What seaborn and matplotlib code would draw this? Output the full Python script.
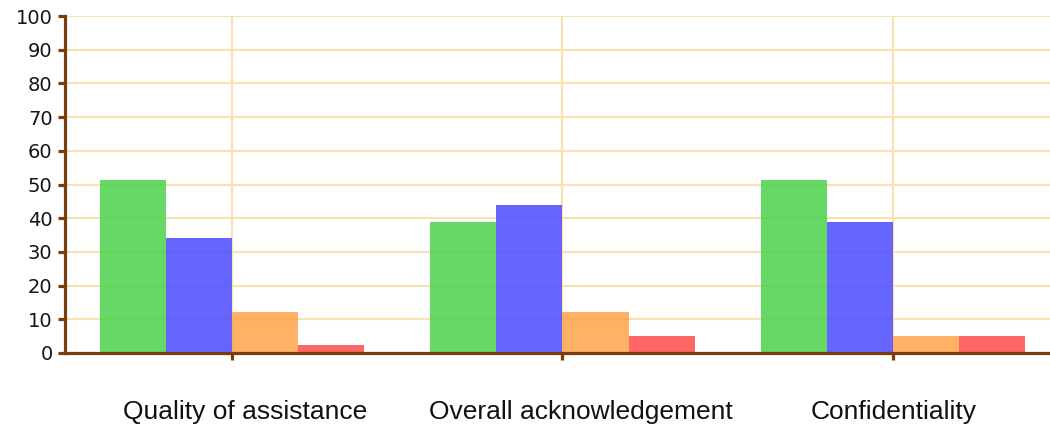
import matplotlib
matplotlib.use("Agg")
import matplotlib.pyplot as plt
import matplotlib.transforms as mtransforms
import numpy as np
import pandas as pd
import seaborn as sns

# Survey results (% of respondents) per aspect and rating level
aspects = ["Quality of assistance", "Overall acknowledgement", "Confidentiality"]
ratings = ["Very good", "Good", "Fair", "Poor"]
very_good = [51.2, 39.0, 51.2]
good = [34.1, 43.9, 39.0]
fair = [12.2, 12.2, 4.9]
poor = [2.4, 4.9, 4.9]
y_ticks = list(range(0, 101, 10))

df = pd.DataFrame({
    "aspect": np.repeat(aspects, len(ratings)),
    "rating": ratings * len(aspects),
    "pct": [v for grp in zip(very_good, good, fair, poor) for v in grp],
})

palette = {
    "Very good": (75 / 255, 210 / 255, 75 / 255),
    "Good": (75 / 255, 75 / 255, 1.0),
    "Fair": (1.0, 164 / 255, 75 / 255),
    "Poor": (1.0, 75 / 255, 75 / 255),
}

sns.set_style("white")
plt.rcParams["font.family"] = ["DejaVu Sans"]

axis_color = "#7a3d12"
grid_color = "#f7e2b0"

fig = plt.figure(figsize=(10.5, 4.26), dpi=100)
ax = fig.add_axes([65 / 1050, 73 / 426, 1 - 65 / 1050, (353 - 16) / 426])

sns.barplot(
    data=df, x="aspect", y="pct", hue="rating", order=aspects,
    hue_order=ratings, palette=palette, saturation=1, width=0.8,
    linewidth=0, alpha=0.85, legend=False, ax=ax, zorder=3,
)

ax.set_ylim(0, 100)
ax.set_xlim(-0.505, 2.475)
ax.set_yticks(y_ticks)
ax.set_xlabel("")
ax.set_ylabel("")

ax.set_axisbelow(True)
ax.grid(True, color=grid_color, linewidth=1.5, zorder=0)

for side in ("top", "right"):
    ax.spines[side].set_visible(False)
for side in ("left", "bottom"):
    ax.spines[side].set_color(axis_color)
    ax.spines[side].set_linewidth(2.3)
    ax.spines[side].set_zorder(5)

ax.tick_params(axis="y", direction="out", length=5, width=2.3,
               color=axis_color, pad=4, labelsize=14, labelcolor="#151515")
ax.tick_params(axis="x", direction="out", length=5, width=2.3,
               color=axis_color, pad=29, labelsize=19, labelcolor="#111111")
ax.tick_params(left=True, bottom=True)

for lbl in ax.get_xticklabels():
    lbl.set_family(["Liberation Sans", "DejaVu Sans"])
shifts = [13, 18, 1]
for lbl, dx in zip(ax.get_xticklabels(), shifts):
    lbl.set_transform(lbl.get_transform() +
                      mtransforms.ScaledTranslation(dx / 100, 0, fig.dpi_scale_trans))

fig.savefig("out.png", dpi=100)
